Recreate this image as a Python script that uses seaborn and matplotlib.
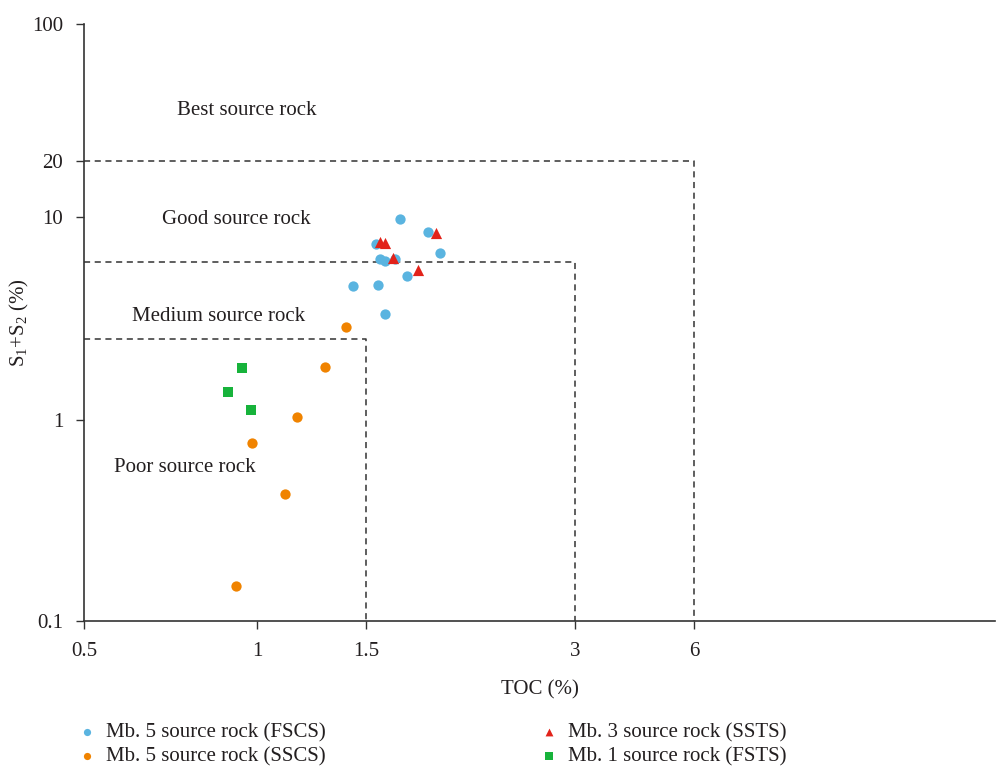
import numpy as np
import pandas as pd
import seaborn as sns
import matplotlib.pyplot as plt

# data
fscs_toc = [1.68, 1.84, 1.55, 1.92, 1.57, 1.60, 1.65, 1.72, 1.43, 1.56, 1.60]
fscs_s12 = [9.77, 8.41, 7.39, 6.65, 6.19, 6.07, 6.21, 5.14, 4.57, 4.61, 3.33]
sscs_toc = [1.39, 1.29, 1.16, 0.98, 1.11, 0.92]
sscs_s12 = [2.86, 1.82, 1.04, 0.77, 0.43, 0.15]
ssts_toc = [1.57, 1.60, 1.89, 1.64, 1.78]
ssts_s12 = [7.53, 7.45, 8.34, 6.26, 5.48]
fsts_toc = [0.94, 0.89, 0.975]
fsts_s12 = [1.81, 1.38, 1.12]

x_ticks = [0.5, 1, 1.5, 3, 6]
x_labels = ['0.5', '1', '1.5', '3', '6']
y_ticks = [0.1, 1, 10, 20, 100]
y_labels = ['0.1', '1', '10', '20', '100']

# class boundaries (TOC, S1+S2)
bounds = [(1.5, 2.5), (3, 6), (6, 20)]

sns.set_theme(style='white')
plt.rcParams['font.family'] = ['Liberation Serif', 'DejaVu Serif']
plt.rcParams['mathtext.fontset'] = 'custom'
plt.rcParams['mathtext.rm'] = 'Liberation Serif'
plt.rcParams['mathtext.it'] = 'Liberation Serif:italic'
txt = '#231f20'

# the original axis is a non uniform log axis, rebuild it piecewise
XT = np.log10([0.5, 1, 1.5, 3, 6, 20])
XP = np.array([0, 173, 282, 491, 610, 911])
YT = np.log10([0.1, 1, 10, 20, 100])
YP = np.array([0, 201, 404, 460, 597])

def fx(x):
    return np.interp(np.log10(np.clip(x, 1e-6, None)), XT, XP)

def ix(p):
    return 10 ** np.interp(p, XP, XT)

def fy(y):
    return np.interp(np.log10(np.clip(y, 1e-6, None)), YT, YP)

def iy(p):
    return 10 ** np.interp(p, YP, YT)

fig = plt.figure(figsize=(9.96, 7.67), dpi=100)
ax = fig.add_axes([84 / 996, 1 - 621 / 767, 911 / 996, 597 / 767])
ax.set_xscale('function', functions=(fx, ix))
ax.set_yscale('function', functions=(fy, iy))

groups = [
    ('Mb. 5 source rock (FSCS)', fscs_toc, fscs_s12, '#5ab4e0', 'o', 55),
    ('Mb. 5 source rock (SSCS)', sscs_toc, sscs_s12, '#f08300', 'o', 55),
    ('Mb. 3 source rock (SSTS)', ssts_toc, ssts_s12, '#e2231a', '^', 65),
    ('Mb. 1 source rock (FSTS)', fsts_toc, fsts_s12, '#17b33b', 's', 60),
]
for name, xs, ys, c, m, s in groups:
    df = pd.DataFrame({'TOC': xs, 'S': ys})
    sns.scatterplot(data=df, x='TOC', y='S', color=c, marker=m, s=s,
                    linewidth=0, label=name, ax=ax, zorder=3)

for bx, by in bounds:
    ax.plot([0.5, bx, bx], [by, by, 0.1], ls=(0, (4, 3)), color='#333333',
            lw=1.1, zorder=2)

ax.set_xlim(0.5, 20)
ax.set_ylim(0.1, 100)
ax.set_xticks(x_ticks, x_labels)
ax.set_yticks(y_ticks, y_labels)
ax.minorticks_off()
ax.tick_params(direction='out', length=6, width=1, color='#333333',
               labelsize=15, labelcolor=txt, left=True, bottom=True)
ax.tick_params(axis='x', pad=9)
ax.tick_params(axis='y', pad=9)
for side in ['top', 'right']:
    ax.spines[side].set_visible(False)
for side in ['left', 'bottom']:
    ax.spines[side].set_color('#333333')
    ax.spines[side].set_linewidth(1.2)

ax.set_xlabel('TOC (%)', fontsize=15, color=txt, labelpad=14)
ax.set_ylabel('$\\mathregular{S_1}$+$\\mathregular{S_2}$ (%)', fontsize=15, color=txt)
ax.yaxis.set_label_coords(-0.058, 0.5)

labs = [('Best source rock', 0.102, 0.855), ('Good source rock', 0.0856, 0.672),
        ('Medium source rock', 0.0527, 0.510), ('Poor source rock', 0.0329, 0.257)]
for t, x, y in labs:
    ax.text(x, y, t, transform=ax.transAxes, fontsize=15, color=txt,
            ha='left', va='center')

h, l = ax.get_legend_handles_labels()
ax.get_legend().remove()
kw = dict(loc='upper left', frameon=False, fontsize=15, markerscale=0.7,
          handlelength=0.8, handletextpad=0.5, labelspacing=0.2,
          borderpad=0, borderaxespad=0, labelcolor=txt)
fig.legend(h[:2], l[:2], bbox_to_anchor=(0.079, 1 - 723 / 767), **kw)
fig.legend(h[2:], l[2:], bbox_to_anchor=(0.543, 1 - 723 / 767), **kw)

fig.savefig('out.png', dpi=100)
